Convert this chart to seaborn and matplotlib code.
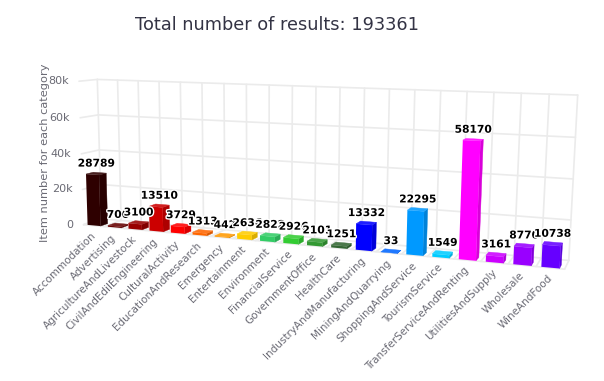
import numpy as np
import matplotlib
matplotlib.use("Agg")
import matplotlib.pyplot as plt
import matplotlib.patheffects as pe
from matplotlib.patches import Polygon
from matplotlib.transforms import Transform, IdentityTransform
import seaborn as sns

categories = ["Accommodation", "Advertising", "AgricultureAndLivestock", "CivilAndEdilEngineering",
              "CulturalActivity", "EducationAndResearch", "Emergency", "Entertainment", "Environment",
              "FinancialService", "GovernmentOffice", "HealthCare", "IndustryAndManufacturing",
              "MiningAndQuarrying", "ShoppingAndService", "TourismService", "TransferServiceAndRenting",
              "UtilitiesAndSupply", "Wholesale", "WineAndFood"]
values = [28789, 706, 3100, 13510, 3729, 1313, 442, 2636, 2822, 2926, 2101, 1251, 13332, 33, 22295,
          1549, 58170, 3161, 8770, 10738]
colors = ["#2e0000", "#660000", "#990000", "#cc0000", "#ff0000", "#ff6600", "#ff9900", "#ffcc00",
          "#33cc66", "#33cc33", "#339933", "#336633", "#0000ff", "#0066ff", "#0099ff", "#00ccff",
          "#ff00ff", "#cc00ff", "#9900ff", "#6600ff"]
y_ticks = [0, 20000, 40000, 60000, 80000]
y_tick_labels = ["0", "20k", "40k", "60k", "80k"]
title = "Total number of results: 193361"
y_title = "Item number for each category"

W, H = 604, 381
XMIN, XMAX = -0.5, len(categories) - 0.5

# camera calibration: world (category, value, depth) <-> image pixel of the chart box
calib = [
    (XMIN, 0, 0, 85, 223), (XMIN, 20000, 0, 82.3, 188.3), (XMIN, 40000, 0, 81, 155),
    (XMIN, 60000, 0, 80, 118), (XMIN, 80000, 0, 78, 82),
    (XMIN, 0, 1, 100, 220), (XMIN, 20000, 1, 100, 185), (XMIN, 40000, 1, 100, 150),
    (XMIN, 60000, 1, 99, 115), (XMIN, 80000, 1, 98, 78),
    (XMAX, 0, 1, 568, 260), (XMAX, 20000, 1, 572, 220), (XMAX, 40000, 1, 573, 178),
    (XMAX, 60000, 1, 575, 138), (XMAX, 80000, 1, 577.7, 95),
    (XMAX, 0, 0, 565, 270),
]
A = []
for cx, cy, cz, u, v in calib:
    p = [cx / 10, cy / 40000, cz, 1]
    A.append(p + [0, 0, 0, 0] + [-u * c for c in p])
    A.append([0, 0, 0, 0] + p + [-v * c for c in p])
P = np.linalg.svd(np.array(A, float))[2][-1].reshape(3, 4)


def project(x, y, z):
    """world -> display coordinates (origin bottom-left)"""
    x, y, z = np.broadcast_arrays(np.asarray(x, float), np.asarray(y, float), np.asarray(z, float))
    q = P @ np.stack([x / 10, y / 40000, z, np.ones_like(x, dtype=float)])
    return np.stack([q[0] / q[2], H - q[1] / q[2]], axis=-1)


class PlaneTransform(Transform):
    input_dims = output_dims = 2

    def __init__(self, z):
        super().__init__()
        self.z = z

    def transform_non_affine(self, xy):
        xy = np.asarray(xy)
        return project(xy[:, 0], xy[:, 1], self.z)


def shade(col, f):
    r, g, b = matplotlib.colors.to_rgb(col)
    if f < 1:
        return (r * f, g * f, b * f)
    return (r + (1 - r) * (f - 1), g + (1 - g) * (f - 1), b + (1 - b) * (f - 1))


sns.set_theme(style="white", rc={"font.family": "DejaVu Sans"})
fig = plt.figure(figsize=(W / 100, H / 100), dpi=100, facecolor="white")
ax = fig.add_axes([0, 0, 1, 1])
ax.set_axis_off()

Z0, Z1 = 0.02, 0.42
BAR_W = 0.64
sns.barplot(x=list(range(len(values))), y=values, hue=list(range(len(values))),
            palette=colors, width=BAR_W, dodge=False, legend=False, ax=ax, native_scale=True,
            saturation=1)

# box grid
GRID = "#ebebeb"
wall = IdentityTransform()


def gridline(a, b, lw=1.2):
    pts = project(*np.array([a, b]).T)
    ax.plot(pts[:, 0], pts[:, 1], color=GRID, lw=lw, transform=wall, clip_on=False, zorder=0.5)


for t in y_ticks:
    gridline((XMIN, t, 0), (XMIN, t, 1))
    gridline((XMIN, t, 1), (XMAX, t, 1))
for i in np.arange(XMIN, XMAX + 1):
    gridline((i, 0, 1), (i, y_ticks[-1], 1))
    gridline((i, 0, 0), (i, 0, 1))
gridline((XMIN, 0, 0), (XMAX, 0, 0))

front = PlaneTransform(Z0)
bars = sorted(ax.patches, key=lambda p: p.get_x())
for bar, col in zip(bars, colors):
    x0, x1, v = bar.get_x(), bar.get_x() + bar.get_width(), bar.get_height()
    bar.set_transform(front)
    bar.set_clip_on(False)
    bar.set_edgecolor("none")
    bar.set_zorder(3)
    side = project([x1, x1, x1, x1], [0, 0, v, v], [Z0, Z1, Z1, Z0])
    top = project([x0, x1, x1, x0], [v, v, v, v], [Z0, Z0, Z1, Z1])
    ax.add_patch(Polygon(side, transform=wall, fc=shade(col, 0.85), ec=shade(col, 0.85), lw=0.3,
                         zorder=2.9, clip_on=False))
    ax.add_patch(Polygon(top, transform=wall, fc=shade(col, 1.12), ec=shade(col, 1.12), lw=0.3,
                         zorder=3, clip_on=False))

for i, (bar, name) in enumerate(zip(bars, categories)):
    v = bar.get_height()
    c = project(bar.get_x() + bar.get_width() / 2, v, (Z0 + Z1) / 2)
    fig.text(c[0] / W, (c[1] + 5) / H, f"{v:.0f}", ha="center", va="bottom", fontsize=7.7, fontweight="bold",
             color="black", zorder=5 + i,
             path_effects=[pe.withStroke(linewidth=2, foreground="white")])
    b = project(i, 0, 0)
    fig.text((b[0] - 3) / W, (b[1] - 5) / H, name, rotation=45, rotation_mode="anchor", ha="right", va="top",
             fontsize=7.5, color="#6a6a74")

for t, lab in zip(y_ticks, y_tick_labels):
    b = project(XMIN, t, 0)
    fig.text((b[0] - 10) / W, b[1] / H, lab, ha="right", va="center", fontsize=8, color="#6a6a74")

fig.text(45 / W, 1 - 153 / H, y_title, rotation=90, ha="center", va="center", fontsize=8.2, color="#6a6a74")
fig.text(135 / W, 1 - 25 / H, title, ha="left", va="center", fontsize=12.8, color="#333344")

ax.set_xlim(0, W)
ax.set_ylim(0, H)
fig.savefig("out.png", dpi=100, facecolor="white")
